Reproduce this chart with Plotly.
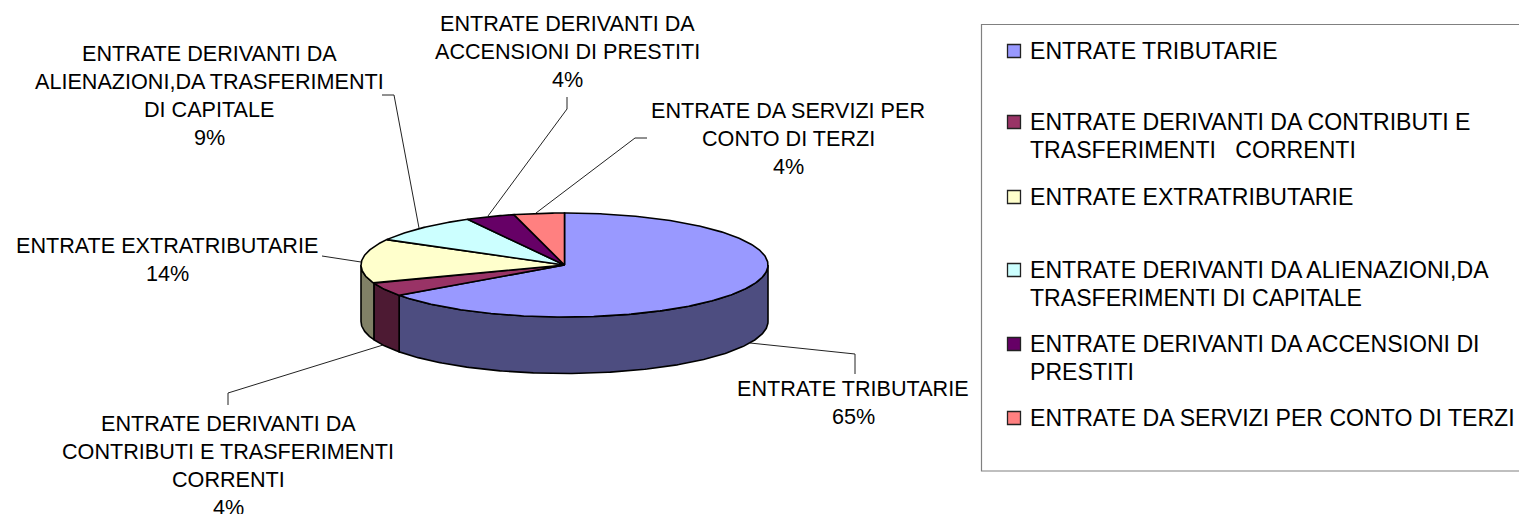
import numpy as np
import plotly.graph_objects as go

# ---- data ----
categories = [
    "ENTRATE TRIBUTARIE",
    "ENTRATE DERIVANTI DA CONTRIBUTI E TRASFERIMENTI CORRENTI",
    "ENTRATE EXTRATRIBUTARIE",
    "ENTRATE DERIVANTI DA ALIENAZIONI,DA TRASFERIMENTI DI CAPITALE",
    "ENTRATE DERIVANTI DA ACCENSIONI DI PRESTITI",
    "ENTRATE DA SERVIZI PER CONTO DI TERZI",
]
values = [65.1, 4.2, 13.8, 9.0, 3.9, 4.0]
label_lines = [
    ["ENTRATE TRIBUTARIE"],
    ["ENTRATE DERIVANTI DA", "CONTRIBUTI E TRASFERIMENTI", "CORRENTI"],
    ["ENTRATE EXTRATRIBUTARIE"],
    ["ENTRATE DERIVANTI DA", "ALIENAZIONI,DA TRASFERIMENTI", "DI CAPITALE"],
    ["ENTRATE DERIVANTI DA", "ACCENSIONI DI PRESTITI"],
    ["ENTRATE DA SERVIZI PER", "CONTO DI TERZI"],
]
legend_lines = [
    ["ENTRATE TRIBUTARIE"],
    ["ENTRATE DERIVANTI DA CONTRIBUTI E", "TRASFERIMENTI   CORRENTI"],
    ["ENTRATE EXTRATRIBUTARIE"],
    ["ENTRATE DERIVANTI DA ALIENAZIONI,DA", "TRASFERIMENTI DI CAPITALE"],
    ["ENTRATE DERIVANTI DA ACCENSIONI DI", "PRESTITI"],
    ["ENTRATE DA SERVIZI PER CONTO DI TERZI"],
]
top_colors = ["#9999FF", "#993366", "#FFFFCC", "#CCFFFF", "#660066", "#FF8080"]
side_colors = ["#4D4D80", "#4D1A33", "#808066", "#668080", "#330033", "#804040"]

# ---- layout constants ----
W, H = 1519, 514
CX, CY, RX, RY, DEPTH = 564.5, 265.0, 203.5, 52.0, 56.5
LABEL_POS = [(853, 388), (228, 423.6), (167, 245), (209, 53), (567, 23), (788, 110)]
LABEL_STEP = 28.1
LABEL_SIZE = 21.6
LEGEND_X, LEGEND_TEXT_X = 1014, 1030
LEGEND_Y = [51, 122, 197, 270, 344, 418]
LEGEND_STEP = 28
LEGEND_SIZE = 23.1
LEADERS = [
    [(750, 343), (855, 354), (855, 374)],
    [(383, 345), (228, 393), (228, 405)],
    [(361, 262), (322, 256)],
    [(419, 228), (394, 95), (382, 95)],
    [(488, 216), (567, 109), (567, 97)],
    [(536, 213), (635, 138), (647, 138)],
]


def arc(a0, a1, dy=0.0):
    n = max(2, int(abs(a1 - a0) * 90))
    t = np.linspace(a0, a1, n)
    return CX + RX * np.sin(t), CY - RY * np.cos(t) + dy


fig = go.Figure()
total = sum(values)
edges = np.concatenate([[0.0], np.cumsum(values)]) / total * 2 * np.pi

# visible rim (front half of the disc only)
for i, name in enumerate(categories):
    a0, a1 = max(edges[i], np.pi / 2), min(edges[i + 1], 3 * np.pi / 2)
    if a1 <= a0:
        continue
    xt, yt = arc(a0, a1)
    xb, yb = arc(a1, a0, DEPTH)
    fig.add_trace(go.Scatter(
        x=np.r_[xt, xb, xt[0]], y=np.r_[yt, yb, yt[0]], mode="lines", fill="toself",
        fillcolor=side_colors[i], line=dict(color="#000000", width=1.6),
        name=name, showlegend=False, hoverinfo="skip"))

# top face
for i, name in enumerate(categories):
    xt, yt = arc(edges[i], edges[i + 1])
    fig.add_trace(go.Scatter(
        x=np.r_[CX, xt, CX], y=np.r_[CY, yt, CY], mode="lines", fill="toself",
        fillcolor=top_colors[i], line=dict(color="#000000", width=1.6),
        name=name, showlegend=False,
        hovertemplate=f"{name}<br>{values[i] / total:.0%}<extra></extra>"))

# legend swatches
for i, name in enumerate(categories):
    fig.add_trace(go.Scatter(
        x=[LEGEND_X], y=[LEGEND_Y[i]], mode="markers", name=name, showlegend=False,
        hoverinfo="skip",
        marker=dict(symbol="square", size=13, color=top_colors[i],
                    line=dict(color="#222222", width=1.3))))

annotations = []
for i, lines in enumerate(label_lines):
    texts = lines + [f"{round(values[i] / total * 100)}%"]
    x0, y0 = LABEL_POS[i]
    for j, t in enumerate(texts):
        annotations.append(dict(x=x0, y=y0 + j * LABEL_STEP, text=t, xref="x", yref="y",
                                showarrow=False, xanchor="center", yanchor="middle",
                                font=dict(family="Liberation Sans", size=LABEL_SIZE, color="#000000")))
for i, lines in enumerate(legend_lines):
    for j, t in enumerate(lines):
        annotations.append(dict(x=LEGEND_TEXT_X, y=LEGEND_Y[i] + j * LEGEND_STEP, text=t, xref="x", yref="y",
                                showarrow=False, xanchor="left", yanchor="middle", xshift=-2,
                                font=dict(family="Liberation Sans", size=LEGEND_SIZE, color="#000000")))

shapes = [dict(type="rect", xref="x", yref="y", x0=981.5, y0=24.5, x1=1530, y1=471,
               line=dict(color="#808080", width=1.2), fillcolor="rgba(0,0,0,0)", layer="below")]
for pts in LEADERS:
    path = "M " + " L ".join(f"{x},{y}" for x, y in pts)
    shapes.append(dict(type="path", path=path, xref="x", yref="y",
                       line=dict(color="#222222", width=1), layer="below"))

fig.update_layout(
    width=W, height=H, margin=dict(l=0, r=0, t=0, b=0), autosize=False,
    paper_bgcolor="#FFFFFF", plot_bgcolor="#FFFFFF", showlegend=False,
    xaxis=dict(range=[0, W], visible=False, fixedrange=True),
    yaxis=dict(range=[H, 0], visible=False, fixedrange=True),
    annotations=annotations, shapes=shapes,
)
fig.write_html("out.html", config=dict(displayModeBar=False),
               post_script="document.body.style.margin='0';document.documentElement.style.overflow='hidden';")
